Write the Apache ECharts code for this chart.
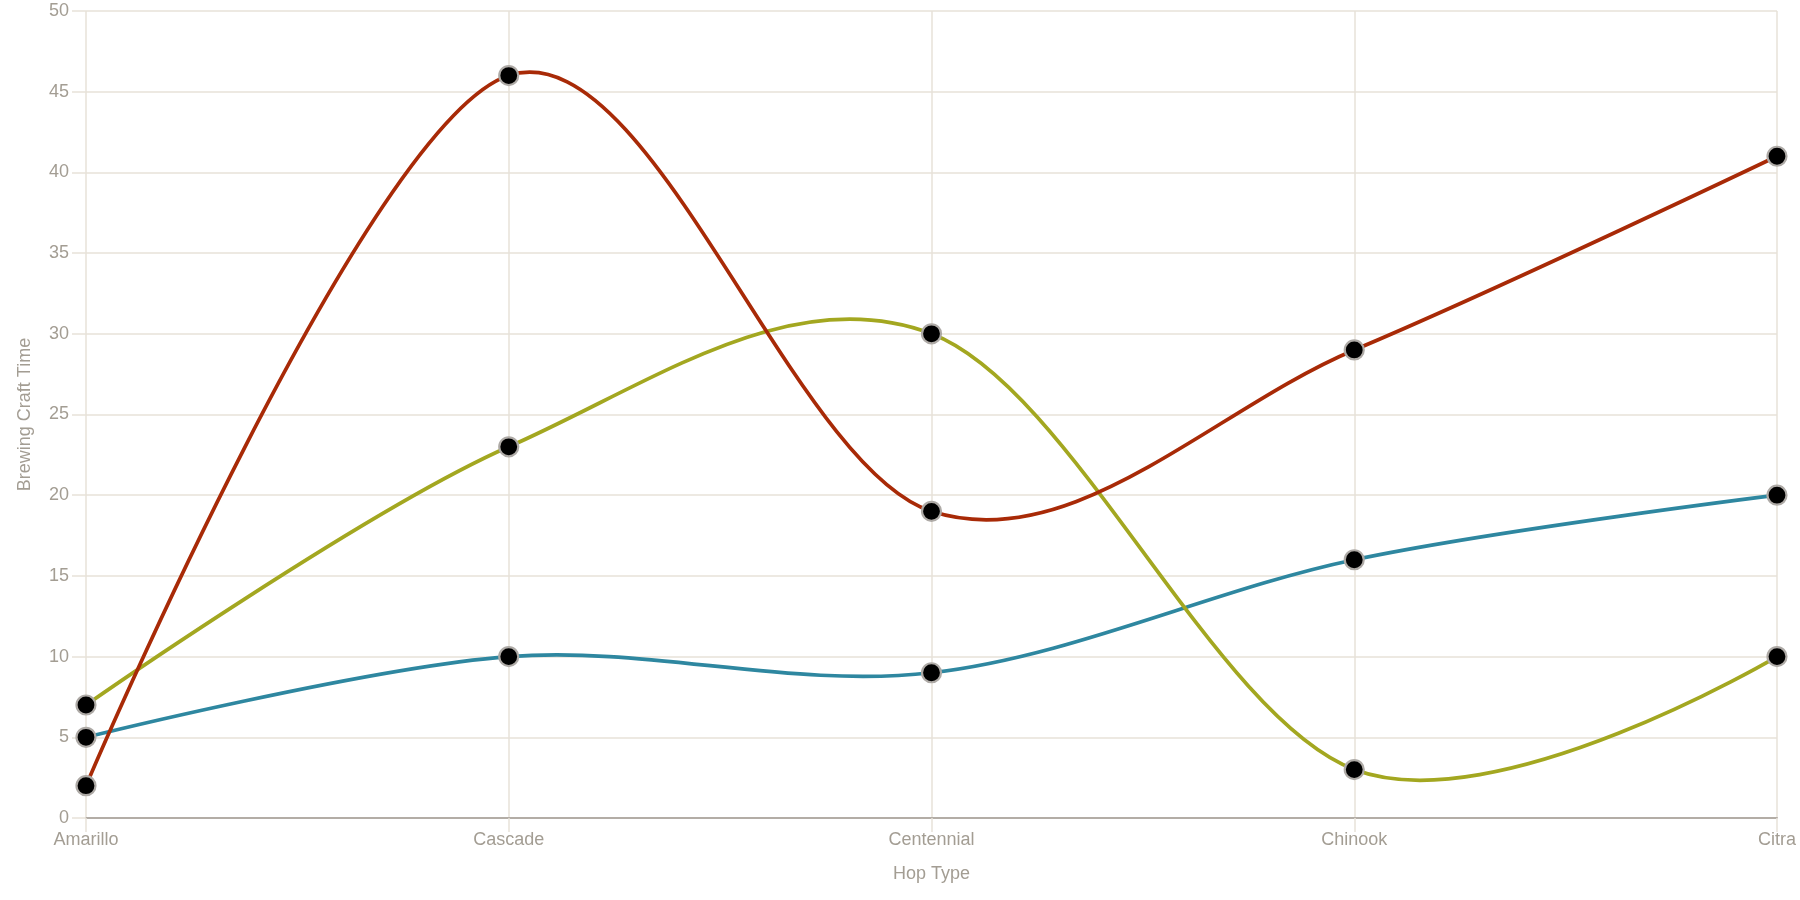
<!DOCTYPE html>
<html>
<head>
<meta charset="utf-8">
<script src="https://cdn.jsdelivr.net/npm/echarts@6/dist/echarts.min.js"></script>
<style>
html,body{margin:0;padding:0;background:#fff;}
#chart{width:1800px;height:900px;}
</style>
</head>
<body>
<div id="chart"></div>
<script>
const categories = ['Amarillo', 'Cascade', 'Centennial', 'Chinook', 'Citra'];
const redSeries = [2, 46, 19, 29, 41];
const oliveSeries = [7, 23, 30, 3, 10];
const tealSeries = [5, 10, 9, 16, 20];
const yTicks = { min: 0, max: 50, interval: 5 };

const textColor = '#a39d93';
const gridColor = '#e7e2d9';
const font = '"Liberation Sans", Arial, sans-serif';

// Cardinal spline (tension 0) drawn segment by segment through the axes' scales.
// At the ends the outer control point sits on the end point itself.
function curveSeries(name, values, color) {
  return {
    name: name,
    type: 'custom',
    data: values.map((v, i) => [i, v]),
    encode: { x: 0, y: 1 },
    z: 2,
    silent: true,
    renderItem: function (params, api) {
      const i = params.dataIndexInside;
      const n = params.dataInsideLength;
      if (i >= n - 1) return null;
      const pt = (j) => api.coord([api.value(0, j), api.value(1, j)]);
      const p1 = pt(i), p2 = pt(i + 1);
      const p0 = i > 0 ? pt(i - 1) : p2;
      const p3 = i + 2 < n ? pt(i + 2) : p1;
      const k = 1 / 6;
      return {
        type: 'bezierCurve',
        shape: {
          x1: p1[0], y1: p1[1],
          cpx1: p1[0] + k * (p2[0] - p0[0]), cpy1: p1[1] + k * (p2[1] - p0[1]),
          cpx2: p2[0] - k * (p3[0] - p1[0]), cpy2: p2[1] - k * (p3[1] - p1[1]),
          x2: p2[0], y2: p2[1]
        },
        style: { stroke: color, lineWidth: 3.7, fill: null, lineCap: 'round' }
      };
    }
  };
}

function markerSeries(name, values) {
  return {
    name: name,
    type: 'line',
    data: values,
    symbol: 'circle',
    symbolSize: 19,
    lineStyle: { width: 0, opacity: 0 },
    itemStyle: { color: '#000', borderColor: '#aeaaa6', borderWidth: 2.2 },
    emphasis: { disabled: true },
    silent: true,
    z: 5
  };
}

const chart = echarts.init(document.getElementById('chart'));
chart.setOption({
  animation: false,
  grid: { left: 86, right: 23, top: 11, bottom: 82, containLabel: false },
  xAxis: {
    type: 'category',
    data: categories,
    boundaryGap: false,
    name: 'Hop Type',
    nameLocation: 'middle',
    nameGap: 47,
    nameTextStyle: { color: textColor, fontSize: 18, fontFamily: font },
    axisLine: { show: true, lineStyle: { color: '#b3ada6', width: 2 } },
    axisTick: { show: true, length: 14, lineStyle: { color: gridColor, width: 1.5 } },
    axisLabel: { color: textColor, fontSize: 18, fontFamily: font, margin: 13 },
    splitLine: { show: true, lineStyle: { color: gridColor, width: 1.5 } }
  },
  yAxis: {
    type: 'value',
    min: yTicks.min,
    max: yTicks.max,
    interval: yTicks.interval,
    name: 'Brewing Craft Time',
    nameLocation: 'middle',
    nameGap: 52,
    nameTextStyle: { color: textColor, fontSize: 18, fontFamily: font },
    axisLine: { show: false },
    axisTick: { show: true, length: 14, lineStyle: { color: gridColor, width: 1.5 } },
    axisLabel: { color: textColor, fontSize: 18, fontFamily: font, margin: 17 },
    splitLine: { show: true, lineStyle: { color: gridColor, width: 1.5 } }
  },
  series: [
    curveSeries('Teal', tealSeries, '#2e87a0'),
    curveSeries('Olive', oliveSeries, '#a3a720'),
    curveSeries('Red', redSeries, '#a82a07'),
    markerSeries('Teal points', tealSeries),
    markerSeries('Olive points', oliveSeries),
    markerSeries('Red points', redSeries)
  ]
});
</script>
</body>
</html>
